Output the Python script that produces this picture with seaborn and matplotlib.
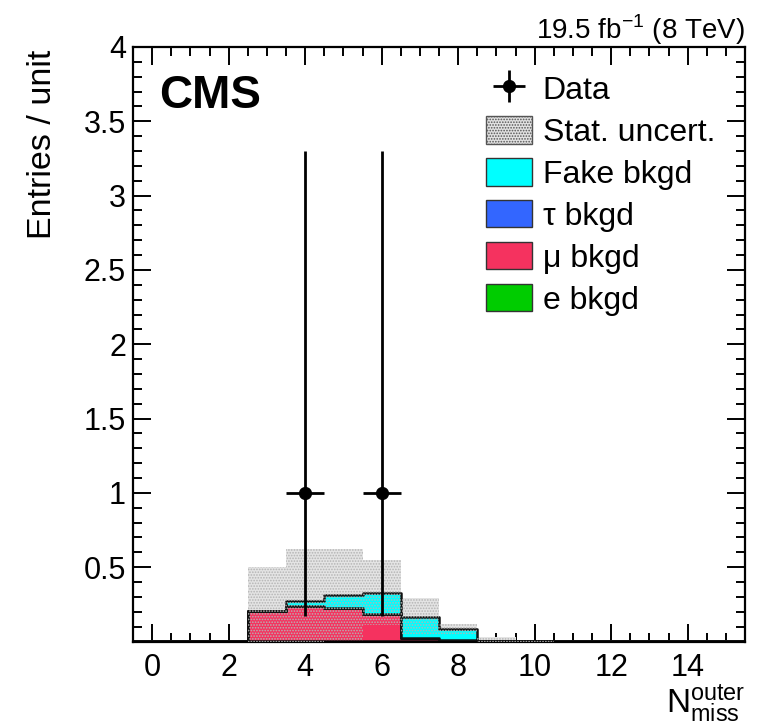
import numpy as np
import pandas as pd
import matplotlib
matplotlib.use("Agg")
import matplotlib.pyplot as plt
from matplotlib.patches import Patch
from matplotlib.ticker import MultipleLocator, FormatStrFormatter
import seaborn as sns

# ---------------- data ----------------
bins = list(range(16))                      # bin centres (unit width)
fake_bkgd = [0, 0, 0, 0.000, 0.033, 0.083, 0.146, 0.141, 0.072, 0.005, 0, 0, 0, 0, 0, 0]
tau_bkgd  = [0] * 16
mu_bkgd   = [0, 0, 0, 0.207, 0.239, 0.228, 0.183, 0.026, 0.010, 0.000, 0, 0, 0, 0, 0, 0]
e_bkgd    = [0] * 16
stat_err  = [0, 0, 0, 0.293, 0.348, 0.309, 0.218, 0.123, 0.038, 0.025, 0.010, 0, 0, 0, 0, 0]

data_x = [4, 6]
data_y = [1.0, 1.0]
data_err_lo = [0.827, 0.827]
data_err_hi = [2.300, 2.300]

x_ticks = [0, 2, 4, 6, 8, 10, 12, 14]
y_ticks = [0.5, 1, 1.5, 2, 2.5, 3, 3.5, 4]

processes = ["Fake bkgd", "τ bkgd", "μ bkgd", "e bkgd"]
colors = {"Fake bkgd": "#00FFFF", "τ bkgd": "#3366FF",
          "μ bkgd": "#F5325F", "e bkgd": "#00CC00"}

# ---------------- style ----------------
sns.set_theme(style="ticks")
plt.rcParams["font.family"] = ["Liberation Sans", "DejaVu Sans"]
plt.rcParams["mathtext.fontset"] = "custom"
plt.rcParams["mathtext.rm"] = "Liberation Sans"
plt.rcParams["hatch.linewidth"] = 0.8
for k in ["text.color", "axes.labelcolor", "xtick.color", "ytick.color", "axes.edgecolor"]:
    plt.rcParams[k] = "black"

fig = plt.figure(figsize=(7.66, 7.24), dpi=100)
ax = fig.add_axes([133 / 766, 1 - 641.5 / 724, (745 - 133) / 766, (641.5 - 47) / 724])

rows = []
for p, vals in zip(processes, [fake_bkgd, tau_bkgd, mu_bkgd, e_bkgd]):
    for b, v in zip(bins, vals):
        rows.append({"bin": b, "weight": v, "process": p})
df = pd.DataFrame(rows)

sns.histplot(data=df, x="bin", weights="weight", hue="process",
             hue_order=processes, multiple="stack", discrete=True,
             element="step", palette=colors, edgecolor="#111111",
             linewidth=1.8, alpha=1, legend=False, ax=ax, zorder=2)

# statistical uncertainty band: grey backdrop behind the stack, dotted overlay on top
total = np.array(fake_bkgd) + np.array(tau_bkgd) + np.array(mu_bkgd) + np.array(e_bkgd)
err = np.array(stat_err)
edges = np.arange(len(bins) + 1) - 0.5
lo = np.clip(total - err, 0, None)
hi = total + err
ax.stairs(hi, edges, baseline=lo, fill=True, facecolor="#e4e4e4",
          linewidth=0, zorder=1)
ax.stairs(hi, edges, baseline=lo, fill=True, facecolor="none",
          edgecolor="#b4b4b4", linewidth=0, hatch="......", zorder=3)

# data
eb = ax.errorbar(data_x, data_y, xerr=0.5, yerr=[data_err_lo, data_err_hi],
                 fmt="o", color="black", ms=8.5, elinewidth=2, capsize=0, zorder=5)

# axes
ax.set_xlim(-0.5, 15.5)
ax.set_ylim(0, 4)
ax.set_xticks(x_ticks)
ax.set_yticks(y_ticks)
ax.yaxis.set_major_formatter(FormatStrFormatter("%g"))
ax.xaxis.set_minor_locator(MultipleLocator(0.5))
ax.yaxis.set_minor_locator(MultipleLocator(0.1))
ax.tick_params(which="both", direction="in", top=True, right=True, width=1.4,
               colors="black", labelsize=22)
ax.tick_params(which="major", length=13)
ax.tick_params(which="minor", length=6.5)
ax.tick_params(axis="x", pad=8)
ax.tick_params(axis="y", pad=5)
for s in ax.spines.values():
    s.set_linewidth(1.6)
    s.set_color("black")

ax.set_ylabel("Entries / unit", fontsize=24.5, loc="top")
ax.yaxis.set_label_coords(-0.122, 0.995)
ax.set_xlabel(r"$\mathregular{N^{outer}_{miss}}$", fontsize=24, loc="right")
ax.xaxis.set_label_coords(1.0, -0.069)

fig.text(159 / 766, 1 - 108 / 724, "CMS", fontsize=33, fontweight="bold",
         ha="left", va="baseline")
fig.text(745 / 766, 1 - 39 / 724, r"19.5 fb$^{\mathregular{-1}}$ (8 TeV)",
         fontsize=20, ha="right", va="baseline")

handles = [eb,
           Patch(facecolor="#e2e2e2", edgecolor="#555555", hatch="......", linewidth=1),
           Patch(facecolor=colors["Fake bkgd"], edgecolor="#333333", linewidth=1),
           Patch(facecolor=colors["τ bkgd"], edgecolor="#333333", linewidth=1),
           Patch(facecolor=colors["μ bkgd"], edgecolor="#333333", linewidth=1),
           Patch(facecolor=colors["e bkgd"], edgecolor="#333333", linewidth=1)]
labels = ["Data", "Stat. uncert."] + processes
fig.legend(handles, labels, loc="upper left",
           bbox_to_anchor=(486 / 766, 1 - 74 / 724), frameon=False,
           fontsize=23, handlelength=1.45, handleheight=0.95, handletextpad=0.32,
           labelspacing=0.32, borderpad=0, borderaxespad=0)

fig.savefig("out.png", dpi=100)
